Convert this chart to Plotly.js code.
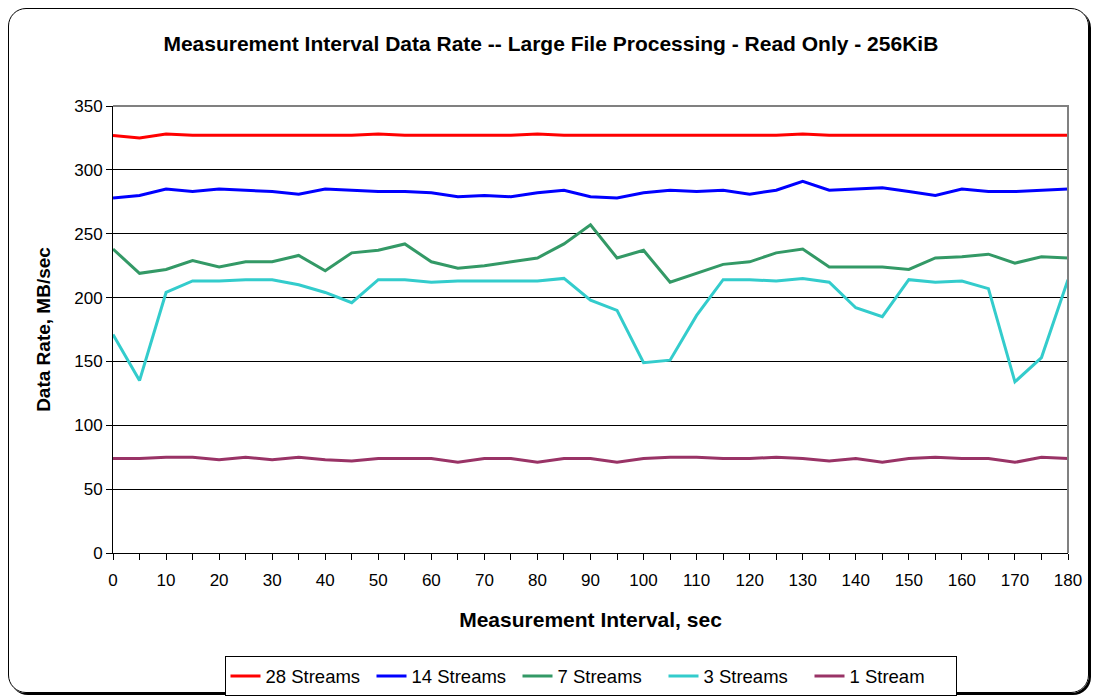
<!DOCTYPE html>
<html>
<head>
<meta charset="utf-8">
<script src="https://cdn.plot.ly/plotly-3.0.1.min.js"></script>
<style>
  html, body { margin: 0; padding: 0; background: #fff; }
  #wrap { position: relative; width: 1093px; height: 698px; }
  #frame { position: absolute; left: 8px; top: 8px; width: 1079px; height: 683px;
           border: 1px solid #000; border-radius: 18px; box-shadow: 2px 2px 0 #000; }
  #chart { position: absolute; left: 0; top: 0; width: 1093px; height: 698px; }
</style>
</head>
<body>
<div id="wrap">
  <div id="frame"></div>
  <div id="chart"></div>
</div>
<script>
const intervals = [0,5,10,15,20,25,30,35,40,45,50,55,60,65,70,75,80,85,90,95,100,105,110,115,120,125,130,135,140,145,150,155,160,165,170,175,180];

const streams28 = [327,325,328,327,327,327,327,327,327,327,328,327,327,327,327,327,328,327,327,327,327,327,327,327,327,327,328,327,327,327,327,327,327,327,327,327,327];
const streams14 = [278,280,285,283,285,284,283,281,285,284,283,283,282,279,280,279,282,284,279,278,282,284,283,284,281,284,291,284,285,286,283,280,285,283,283,284,285];
const streams7  = [238,219,222,229,224,228,228,233,221,235,237,242,228,223,225,228,231,242,257,231,237,212,219,226,228,235,238,224,224,224,222,231,232,234,227,232,231];
const streams3  = [171,135,204,213,213,214,214,210,204,196,214,214,212,213,213,213,213,215,198,190,149,151,186,214,214,213,215,212,192,185,214,212,213,207,134,153,214];
const streams1  = [74,74,75,75,73,75,73,75,73,72,74,74,74,71,74,74,71,74,74,71,74,75,75,74,74,75,74,72,74,71,74,75,74,74,71,75,74];

const seriesNames = ['28 Streams','14 Streams','7 Streams','3 Streams','1 Stream'];
const seriesData = [streams28, streams14, streams7, streams3, streams1];
const seriesColors = ['#FF0000','#0000FF','#339966','#33CCCC','#993366'];

const yTicks = [0,50,100,150,200,250,300,350];
const xTickLabels = [0,10,20,30,40,50,60,70,80,90,100,110,120,130,140,150,160,170,180];

const FONT = 'Liberation Sans, Arial, sans-serif';

const traces = seriesNames.map((n, i) => ({
  type: 'scatter', mode: 'lines', name: n,
  x: intervals, y: seriesData[i],
  line: { color: seriesColors[i], width: 3 }
}));

const layout = {
  width: 1093, height: 698,
  paper_bgcolor: 'rgba(0,0,0,0)', plot_bgcolor: '#fff',
  margin: { l: 113, r: 25, t: 106, b: 144.5, autoexpand: false },
  showlegend: true,
  title: { text: '<b>Measurement Interval Data Rate -- Large File Processing - Read Only - 256KiB</b>',
           font: { family: FONT, size: 21, color: '#000' },
           x: 0.504, xref: 'container', xanchor: 'center',
           y: 1 - 44/698, yref: 'container', yanchor: 'middle' },
  xaxis: {
    range: [0, 180], tickmode: 'array', tickvals: xTickLabels, ticktext: xTickLabels.map(String),
    showgrid: false, zeroline: false, showline: true, linecolor: '#000', linewidth: 1,
    ticks: 'outside', ticklen: 6, tickcolor: '#000', ticklabelstandoff: 6,
    minor: { tickmode: 'array', tickvals: intervals, ticks: 'outside', ticklen: 6, tickcolor: '#000', showgrid: false },
    tickfont: { family: FONT, size: 17, color: '#000' },
    title: { text: '<b>Measurement Interval, sec</b>', font: { family: FONT, size: 21, color: '#000' }, standoff: 22 },
    automargin: false, fixedrange: true
  },
  yaxis: {
    range: [0, 350], tickmode: 'array', tickvals: yTicks, ticktext: yTicks.map(String),
    showgrid: true, gridcolor: '#000', gridwidth: 1, zeroline: false,
    showline: true, linecolor: '#000', linewidth: 1,
    ticks: 'outside', ticklen: 6, tickcolor: '#000',
    tickfont: { family: FONT, size: 17, color: '#000' },
    title: { text: '<b>Data Rate, MB/sec</b>', font: { family: FONT, size: 19, color: '#000' }, standoff: 18 },
    automargin: false, fixedrange: true
  },
  shapes: [
    { type: 'path', xref: 'paper', yref: 'paper', path: 'M 0 1 L 1 1 L 1 0',
      line: { color: '#808080', width: 2 }, layer: 'above' }
  ],
  legend: {
    orientation: 'h', x: 0.5, xanchor: 'center', y: (553.5 - 657) / 447.5, yanchor: 'top',
    bgcolor: '#fff', bordercolor: '#000', borderwidth: 1,
    font: { family: FONT, size: 18.5, color: '#000' },
    traceorder: 'normal', itemwidth: 30, entrywidth: 101, entrywidthmode: 'pixels'
  }
};

Plotly.newPlot('chart', traces, layout, { displayModeBar: false, staticPlot: true });
</script>
</body>
</html>
